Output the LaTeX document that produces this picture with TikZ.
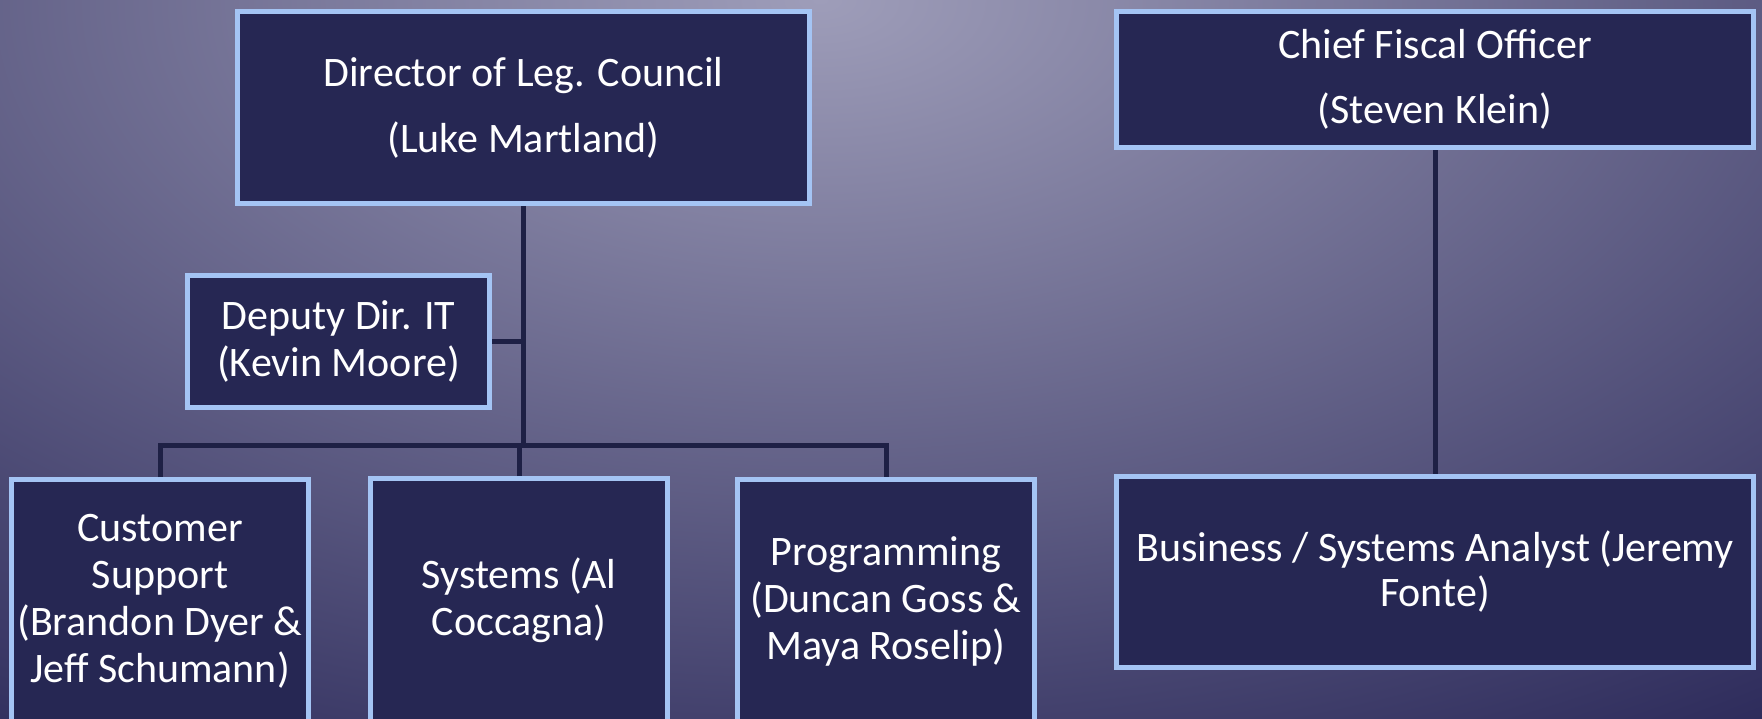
\documentclass[tikz,border=0pt]{standalone}
\usepackage{fontspec}
\setmainfont{Carlito}
\definecolor{boxfill}{HTML}{262753}
\definecolor{boxline}{HTML}{A4C4F4}
\definecolor{conn}{HTML}{1E2045}
\definecolor{bgin}{HTML}{9E9DB9}
\definecolor{bgout}{HTML}{2C2A5A}
\pgfdeclareradialshading{bgshade}{\pgfpoint{0bp}{0bp}}{color(0bp)=(bgin); color(25bp)=(bgout); color(50bp)=(bgout)}
\tikzset{
  orgbox/.style={draw=boxline, line width=5pt, fill=boxfill, text=white,
    font=\fontsize{42}{47}\selectfont, align=center, inner sep=0pt},
  conline/.style={draw=conn, line width=5pt}
}
\begin{document}
\begin{tikzpicture}[x=1pt,y=-1pt]
\useasboundingbox (0,0) rectangle (1762,718);
\begin{scope}
  \clip (0,0) rectangle (1762,718);
  \fill[bgout] (0,0) rectangle (1762,718);
  \shade[shading=bgshade] (820,0) ellipse [x radius=1650pt, y radius=900pt];
\end{scope}

\node[orgbox, minimum width=572pt, minimum height=192pt] (dir) at (523.5,107.5)
  {Director of Leg. Council\\[19pt](Luke Martland)};
\node[orgbox, minimum width=637pt, minimum height=136pt] (cfo) at (1435,79.5)
  {Chief Fiscal Officer\\[18pt](Steven Klein)};
\node[orgbox, minimum width=302pt, minimum height=132pt] (dep) at (338.5,341.5)
  {Deputy Dir. IT\\(Kevin Moore)};
\node[orgbox, minimum width=297pt, minimum height=243pt] (cust) at (160,601)
  {Customer\\Support\\(Brandon Dyer \&\\Jeff Schumann)};
\node[orgbox, minimum width=297pt, minimum height=243pt] (sys) at (519,600)
  {Systems (Al\\Coccagna)};
\node[orgbox, minimum width=297pt, minimum height=243pt] (prog) at (886,601)
  {Programming\\(Duncan Goss \&\\Maya Roselip)};
\node[orgbox, minimum width=637pt, minimum height=191pt, font=\fontsize{42}{45}\selectfont] (bus) at (1435,572)
  {Business / Systems Analyst (Jeremy\\Fonte)};

\coordinate (bar) at (523.5,445);
\draw[conline] (dir.south) -- (bar);
\draw[conline] (dep.east) -- (dep.east -| dir.south);
\draw[conline] (cust.north) |- (prog.north |- bar) -- (prog.north);
\draw[conline] (sys.north) -- (sys.north |- bar);
\draw[conline] (cfo.south) -- (bus.north);
\end{tikzpicture}
\end{document}
